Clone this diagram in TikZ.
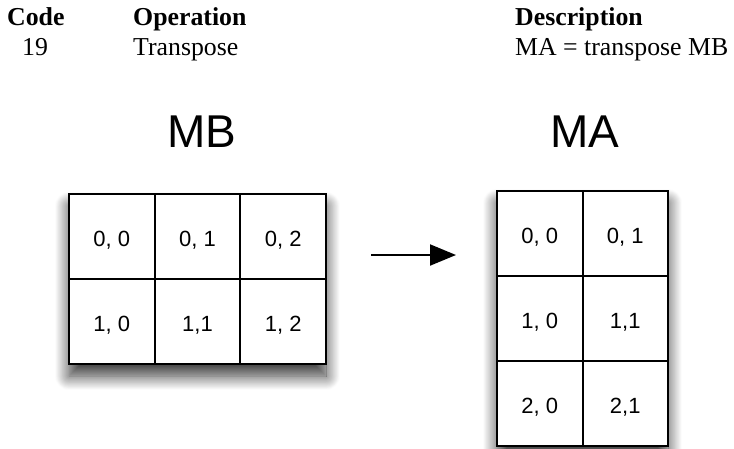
\documentclass[tikz,border=0pt]{standalone}
\usepackage{fontspec}
\setmainfont{Liberation Serif}
\setsansfont{Liberation Sans}
\usetikzlibrary{arrows.meta,shadows.blur}

\tikzset{
  head/.style={anchor=base west, inner sep=0pt, font=\fontsize{25.8}{30}\selectfont\bfseries},
  body/.style={anchor=base west, inner sep=0pt, font=\fontsize{25.8}{30}\selectfont},
  title/.style={anchor=base, inner sep=0pt, font=\sffamily\fontsize{46}{54}\selectfont},
  cellb/.style={draw, line width=2pt, fill=white, inner sep=0pt,
    text height=19pt, text depth=0pt,
    minimum width=85.67pt, minimum height=85pt, font=\sffamily\fontsize{22}{26}\selectfont},
  cella/.style={cellb, minimum width=85.5pt},
  frame/.style={fill=white, inner sep=0pt,
    blur shadow={shadow xshift=0pt, shadow yshift=-12pt, shadow blur radius=14pt,
      shadow blur steps=18, shadow opacity=80}},
  flow/.style={line width=2pt, -{Triangle[length=26pt,width=21pt]}}
}

\begin{document}
\begin{tikzpicture}[x=1pt,y=-1pt]
  \useasboundingbox (0,0) rectangle (734,448);

  % table header
  \node[head] (hcode) at (7,25) {Code};
  \node[head] (hop)   at (133,25) {Operation};
  \node[head] (hdesc) at (515,25) {Description};
  \node[body] (vcode) at (22,55) {19};
  \node[body] (vop)   at (133,55) {Transpose};
  \node[body] (vdesc) at (515,55) {MA = transpose MB};

  % matrix titles
  \node[title] (tmb) at (202,147) {MB};
  \node[title] (tma) at (585,147) {MA};

  % MB: 2 x 3 source matrix
  \node[frame, minimum width=257pt, minimum height=170pt] (mbframe) at (197.5,279) {};
  \node[cellb] (b00) at (111.8,236.5) {0, 0};
  \node[cellb] (b01) at (197.5,236.5) {0, 1};
  \node[cellb] (b02) at (283.2,236.5) {0, 2};
  \node[cellb] (b10) at (111.8,321.5) {1, 0};
  \node[cellb] (b11) at (197.5,321.5) {1,1};
  \node[cellb] (b12) at (283.2,321.5) {1, 2};

  % MA: 3 x 2 transposed matrix
  \node[frame, minimum width=171pt, minimum height=255pt] (maframe) at (582.5,318.5) {};
  \node[cella] (a00) at (539.75,233.5) {0, 0};
  \node[cella] (a01) at (625.25,233.5) {0, 1};
  \node[cella] (a10) at (539.75,318.5) {1, 0};
  \node[cella] (a11) at (625.25,318.5) {1,1};
  \node[cella] (a20) at (539.75,403.5) {2, 0};
  \node[cella] (a21) at (625.25,403.5) {2,1};

  % transpose arrow
  \coordinate (arrtail) at (371,255);
  \coordinate (arrtip)  at (456,255);
  \draw[flow] (arrtail) -- (arrtip);
\end{tikzpicture}
\end{document}
